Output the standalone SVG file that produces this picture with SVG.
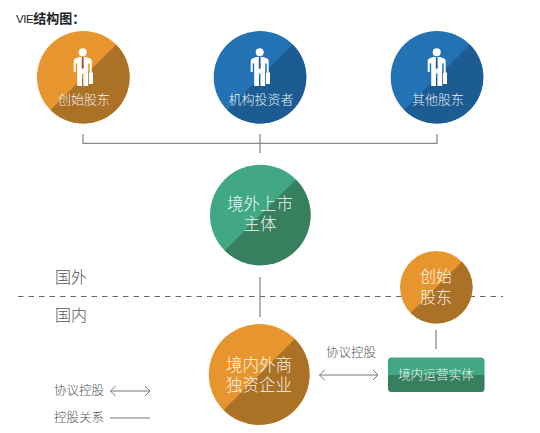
<svg xmlns="http://www.w3.org/2000/svg" width="540" height="433" viewBox="0 0 540 433">
<style>
text{font-family:"Liberation Sans","Noto Sans CJK SC",sans-serif;text-anchor:middle;font-weight:300}
.w{fill:#fff;fill-opacity:.93}
.d{fill:#555}
.l{fill:none;stroke:#8a8a8a;stroke-width:1.3}
.o{fill:#E7962F}.od{fill:#AB7126}
.b{fill:#2272B4}.bd{fill:#1C5C93}
.g{fill:#42A884}.gd{fill:#37805F}
.m{fill:none;stroke:#777;stroke-width:1}
</style>
<defs>
<g id="man">
<circle cx="0" cy="-25.200" r="4" fill="#fff"/>
<path d="M-3.500-20.500H3.500L7.500-19Q9-18.500 9-16.500V-5.500H7V-14H5.500V8.500H0.700V-4H-0.700V8.500H-5.500V-14H-7V-5.500H-9V-16.500Q-9-18.500-7.500-19Z" fill="#fff"/>
<path d="M-0.800-20.500H0.800L1-10L0-8L-1-10Z"/>
<path d="M6.300-5H7.300V-6.500H9V-5H10.300V6.500H6.300Z" fill="#fff"/>
</g>
<path id="h46" d="M-46.300 0A46.300 46.300 0 0 0 46.300 0Z"/>
<path id="h50" d="M-50.300 0A50.300 50.300 0 0 0 50.300 0Z"/>
<path id="h36" d="M-36.300 0A36.300 36.300 0 0 0 36.300 0Z"/>
</defs>
<text x="16" y="23" font-size="13" style="text-anchor:start;font-weight:700" fill="#222"><tspan font-size="11.500" letter-spacing="-0.400" style="font-weight:400">VIE</tspan>结构图：</text>
<g id="connectors">
<path class="l" d="M83 134V143.300H437V134M260 134V153"/>
<path d="M18 296.500H503" fill="none" stroke="#666" stroke-width="1" stroke-dasharray="5.500 5"/>
<path class="l" d="M260 277V317M436 330V349"/>
<path class="m" d="M319.500 375H378M324.500 370L319.500 375L324.500 380M373 370L378 375L373 380"/>
<path class="m" d="M110.500 391H150M115.500 386L110.500 391L115.500 396M145 386L150 391L145 396"/>
<path class="m" d="M110 418H150"/>
</g>
<g id="founder-top">
<circle class="o" cx="83.300" cy="77.300" r="46.300"/>
<use href="#h46" class="od" transform="translate(83.300 77.300) rotate(-45)"/>
<use href="#man" x="82.700" y="77.500" fill="#a8452a"/>
<text class="w" x="84" y="104" font-size="13">创始股东</text>
</g>
<g id="institution">
<circle class="b" cx="260" cy="77.300" r="46.300"/>
<use href="#h46" class="bd" transform="translate(260 77.300) rotate(-45)"/>
<use href="#man" x="259.700" y="77.500" fill="#1C5C93"/>
<text class="w" x="261" y="104" font-size="13">机构投资者</text>
</g>
<g id="others">
<circle class="b" cx="437" cy="77.300" r="46.300"/>
<use href="#h46" class="bd" transform="translate(437 77.300) rotate(-45)"/>
<use href="#man" x="436.700" y="77.500" fill="#1C5C93"/>
<text class="w" x="438" y="104" font-size="13">其他股东</text>
</g>
<g id="offshore">
<circle class="g" cx="260.300" cy="215" r="50.300"/>
<use href="#h50" class="gd" transform="translate(260.300 215) rotate(-45)"/>
<text class="w" x="260" y="210" font-size="16.500">境外上市</text>
<text class="w" x="260" y="230" font-size="16.500">主体</text>
</g>
<g id="wfoe">
<circle class="o" cx="259.200" cy="374.500" r="50.400"/>
<use href="#h50" class="od" transform="translate(259.200 374.500) rotate(-45)"/>
<text class="w" x="259" y="371" font-size="16.500">境内外商</text>
<text class="w" x="259" y="391" font-size="16.500">独资企业</text>
</g>
<g id="founder-right">
<circle class="o" cx="436.300" cy="287.300" r="36.300"/>
<use href="#h36" class="od" transform="translate(436.300 287.300) rotate(-45)"/>
<text class="w" x="436" y="282" font-size="16">创始</text>
<text class="w" x="436" y="303" font-size="16">股东</text>
</g>
<g id="onshore">
<path class="g" d="M388 375V361Q388 357.500 391.500 357.500H481Q484.500 357.500 484.500 361V375Z"/>
<path class="gd" d="M388 375H484.500V388.500Q484.500 392 481 392H391.500Q388 392 388 388.500Z"/>
<text class="w" x="436" y="379" font-size="12.700">境内运营实体</text>
</g>
<text class="d" x="71" y="283" font-size="16">国外</text>
<text class="d" x="71" y="321" font-size="16">国内</text>
<text class="d" x="351" y="357" font-size="12.500">协议控股</text>
<text class="d" x="79" y="395" font-size="12.500">协议控股</text>
<text class="d" x="79" y="422" font-size="12.500">控股关系</text>
</svg>
